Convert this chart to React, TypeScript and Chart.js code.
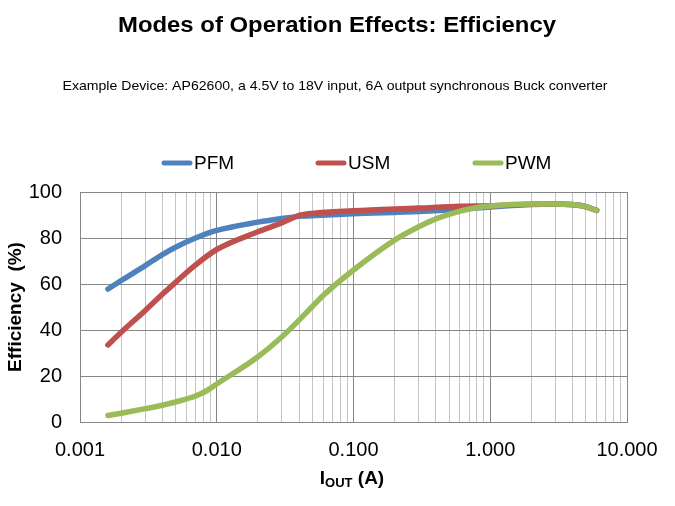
import React, { useEffect, useRef } from "react";
import { Chart, registerables } from "chart.js";

Chart.register(...registerables);

const FONT = "Liberation Sans, Arial, Helvetica, sans-serif";

const titleText = "Modes of Operation Effects: Efficiency";
const subtitleText = "Example Device: AP62600, a 4.5V to 18V input, 6A output synchronous Buck converter";
const yTitleText = "Efficiency  (%)";

const seriesNames = ["PFM", "USM", "PWM"];
const seriesColors = ["#4F81BD", "#C0504D", "#9BBB59"];

const pfmX = [0.0016, 0.002, 0.003, 0.004, 0.005, 0.007, 0.01, 0.02, 0.03, 0.04, 0.1, 0.3, 0.6, 1.0, 2.0, 3.0, 4.7, 6.0];
const pfmY = [57.8, 61.5, 68, 72.8, 76, 80, 83.3, 86.9, 88.5, 89.4, 90.5, 91.5, 92.5, 93.5, 94.6, 94.8, 94, 92];

const usmX = [0.0016, 0.002, 0.003, 0.004, 0.005, 0.007, 0.01, 0.02, 0.03, 0.04, 0.05, 0.1, 0.3, 0.6, 1.0, 2.0, 3.0, 4.7, 6.0];
const usmY = [33.5, 39, 48.5, 55.5, 60.7, 68.3, 75, 82.7, 86.6, 89.8, 90.7, 91.8, 93, 93.8, 94, 94.7, 94.8, 94, 92];

const pwmX = [0.0016, 0.002, 0.003, 0.004, 0.005, 0.007, 0.0085, 0.01, 0.02, 0.03, 0.04, 0.05, 0.06, 0.1, 0.2, 0.3, 0.4, 0.5, 0.7, 1.0, 2.0, 3.0, 4.7, 6.0];
const pwmY = [2.8, 3.8, 5.8, 7.3, 8.7, 11.3, 13.7, 16.5, 28.4, 37.1, 44.3, 50.2, 55, 66.1, 79.1, 84.9, 88.3, 90.3, 92.6, 93.9, 94.8, 94.8, 94, 92];

const xTickValues: number[] = [];
for (let e = -3; e <= 0; e++) {
  for (let m = 1; m <= 9; m++) xTickValues.push(m * Math.pow(10, e));
}
xTickValues.push(10);

const isMajor = (v: number) => {
  const l = Math.log10(v);
  return Math.abs(l - Math.round(l)) < 1e-9;
};

const toPoints = (xs: number[], ys: number[]) => xs.map((x, i) => ({ x, y: ys[i] }));

const textPlugin = {
  id: "textPlugin",
  afterDraw(chart: any) {
    const ctx: CanvasRenderingContext2D = chart.ctx;
    ctx.save();
    ctx.fillStyle = "#000";

    const fitText = (text: string, font: string, cx: number, cy: number, targetW: number) => {
      ctx.font = font;
      ctx.textAlign = "center";
      ctx.textBaseline = "middle";
      const w = ctx.measureText(text).width;
      const sx = targetW / w;
      ctx.save();
      ctx.translate(cx, cy);
      ctx.scale(sx, 1);
      ctx.fillText(text, 0, 0);
      ctx.restore();
    };

    fitText(titleText, `bold 22px ${FONT}`, 337, 26, 438);
    fitText(subtitleText, `13px ${FONT}`, 335, 86, 545);

    // legend
    const legendX = [162, 316, 473];
    ctx.lineCap = "round";
    ctx.lineWidth = 5;
    ctx.font = `19px ${FONT}`;
    ctx.textAlign = "left";
    ctx.textBaseline = "middle";
    seriesNames.forEach((name, i) => {
      const x = legendX[i];
      ctx.strokeStyle = seriesColors[i];
      ctx.beginPath();
      ctx.moveTo(x + 2, 163);
      ctx.lineTo(x + 28, 163);
      ctx.stroke();
      ctx.fillStyle = "#000";
      ctx.fillText(name, x + 32, 164);
    });

    // x title I_OUT (A)
    const big = `bold 19px ${FONT}`;
    const small = `bold 13px ${FONT}`;
    ctx.textBaseline = "alphabetic";
    ctx.font = big;
    const wI = ctx.measureText("I").width;
    const wA = ctx.measureText(" (A)").width;
    ctx.font = small;
    const wO = ctx.measureText("OUT").width;
    const total = wI + wO + wA;
    let sx = 352 - total / 2;
    const base = 484;
    ctx.font = big;
    ctx.fillText("I", sx, base);
    sx += wI;
    ctx.font = small;
    ctx.fillText("OUT", sx, base + 3);
    sx += wO;
    ctx.font = big;
    ctx.fillText(" (A)", sx, base);

    // y title
    ctx.save();
    ctx.translate(16, 307);
    ctx.rotate(-Math.PI / 2);
    ctx.font = `bold 19px ${FONT}`;
    ctx.textAlign = "center";
    ctx.textBaseline = "middle";
    ctx.fillText(yTitleText, 0, 0);
    ctx.restore();

    ctx.restore();
  },
};

export default function App() {
  const ref = useRef<HTMLCanvasElement>(null);

  useEffect(() => {
    document.body.style.margin = "0";
    const canvas = ref.current;
    if (!canvas) return;
    const common = {
      borderWidth: 5.5,
      pointRadius: 0,
      cubicInterpolationMode: "monotone" as const,
      fill: false,
      borderCapStyle: "round" as const,
      borderJoinStyle: "round" as const,
    };
    const chart = new Chart(canvas, {
      type: "line",
      data: {
        datasets: [
          { ...common, label: seriesNames[2], data: toPoints(pwmX, pwmY), borderColor: seriesColors[2] },
          { ...common, label: seriesNames[1], data: toPoints(usmX, usmY), borderColor: seriesColors[1] },
          { ...common, label: seriesNames[0], data: toPoints(pfmX, pfmY), borderColor: seriesColors[0] },
        ],
      },
      options: {
        responsive: false,
        animation: false,
        devicePixelRatio: 1,
        layout: { padding: { top: 192, right: 48, left: 0, bottom: 0 } },
        plugins: {
          legend: { display: false },
          title: { display: false },
          tooltip: { enabled: false },
        },
        scales: {
          x: {
            type: "logarithmic",
            min: 0.001,
            max: 10,
            afterBuildTicks: (s: any) => {
              s.ticks = xTickValues.map((v) => ({ value: v }));
            },
            afterFit: (s: any) => {
              s.height = 84;
            },
            ticks: {
              autoSkip: false,
              maxRotation: 0,
              minRotation: 0,
              padding: 16,
              color: "#000",
              font: { family: FONT, size: 20 },
              callback: (v: any) => (isMajor(Number(v)) ? Number(v).toFixed(3) : ""),
            },
            grid: {
              drawTicks: false,
              lineWidth: 1,
              color: (c: any) => (c.tick && isMajor(c.tick.value) ? "#868686" : "#c4c4c4"),
            },
            border: { color: "#868686" },
          },
          y: {
            type: "linear",
            min: 0,
            max: 100,
            afterFit: (s: any) => {
              s.width = 80;
            },
            ticks: {
              stepSize: 20,
              padding: 18,
              color: "#000",
              font: { family: FONT, size: 20 },
            },
            grid: { drawTicks: false, color: "#868686", lineWidth: 1 },
            border: { color: "#868686" },
          },
        },
      },
      plugins: [textPlugin],
    });
    return () => chart.destroy();
  }, []);

  return <canvas ref={ref} width={675} height={506} style={{ display: "block" }} />;
}
